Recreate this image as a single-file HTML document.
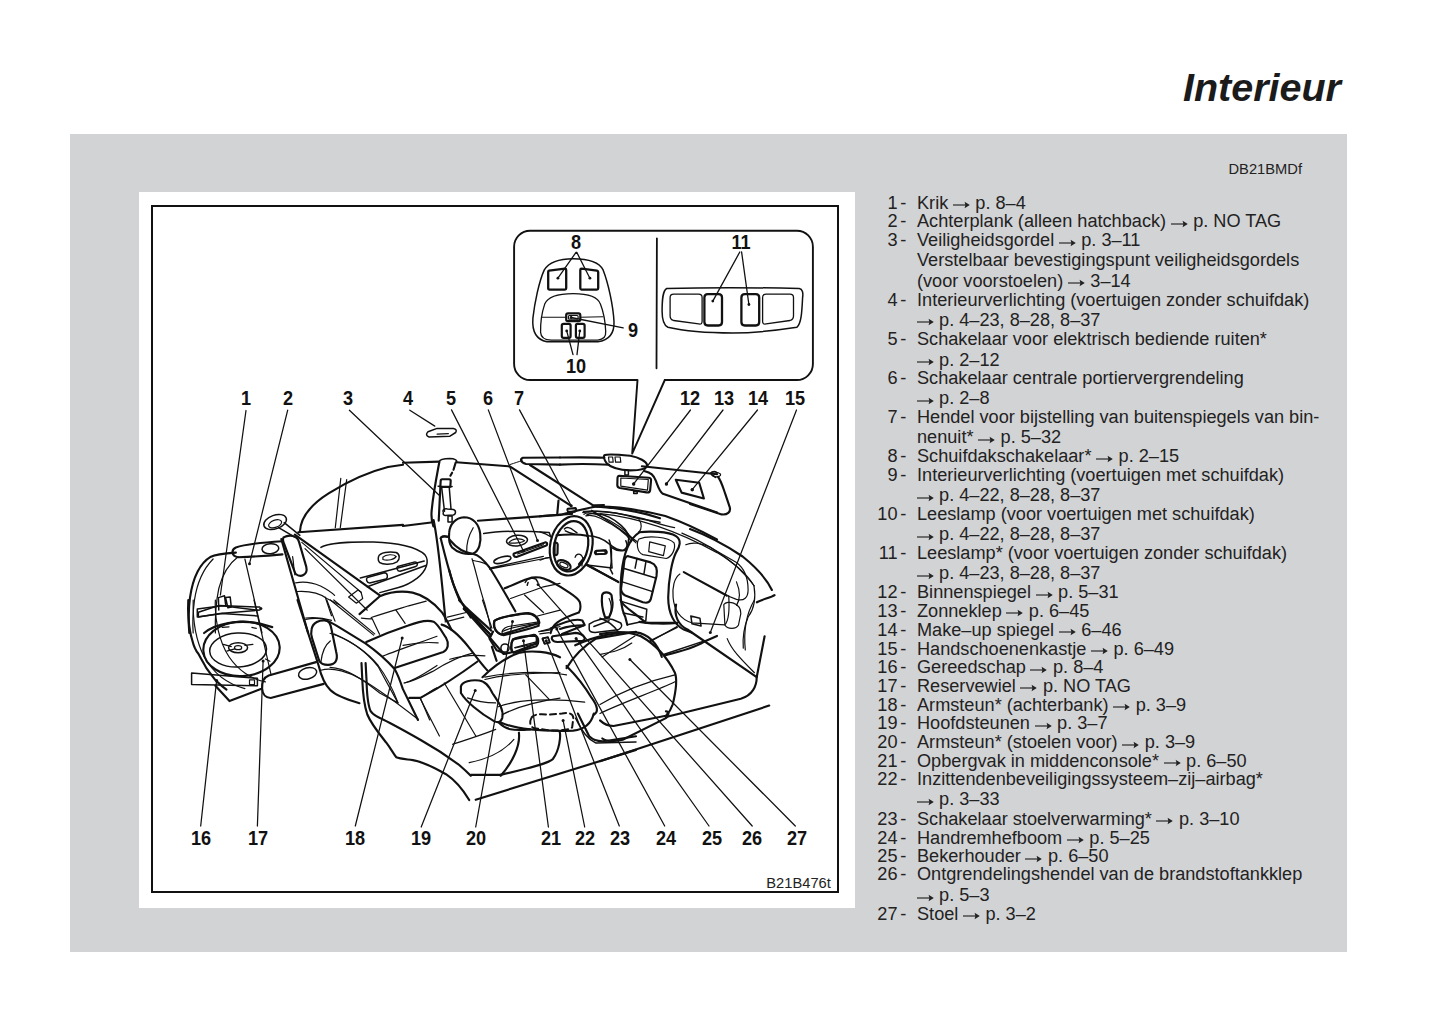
<!DOCTYPE html>
<html><head><meta charset="utf-8"><style>
html,body{margin:0;padding:0;background:#fff;}
body{width:1445px;height:1026px;position:relative;overflow:hidden;font-family:"Liberation Sans",sans-serif;color:#222;}
.abs{position:absolute;}
#title{position:absolute;right:104px;top:68px;font-size:39.5px;font-weight:bold;font-style:italic;color:#1b1b1b;line-height:1;white-space:nowrap;letter-spacing:0px}
#gray{position:absolute;left:70px;top:134px;width:1277px;height:818px;background:#d2d3d5;}
#white{position:absolute;left:139px;top:192px;width:716px;height:716px;background:#fff;}
#frame{position:absolute;left:151px;top:205px;width:684px;height:684px;border:2px solid #111;}
.n{position:absolute;left:841.5px;width:56px;text-align:right;font-size:18.15px;line-height:1;white-space:nowrap}
.d{position:absolute;left:900.2px;font-size:18.15px;line-height:1}
.t{position:absolute;left:917px;font-size:18.15px;line-height:1;white-space:nowrap}
.ar{display:inline-block;position:static;vertical-align:-0.5px;margin:0 0.5px 0 -0.5px}
.lb{position:absolute;width:60px;text-align:center;font-size:19.5px;font-weight:bold;line-height:1;color:#111;transform:scaleX(0.93)}
#code1{position:absolute;left:1228.5px;top:162.3px;font-size:14.7px;line-height:1;color:#222}
#code2{position:absolute;left:766.3px;top:876.3px;font-size:14.7px;line-height:1;color:#222}
svg{position:absolute;left:0;top:0}
</style></head><body>
<div id="title">Interieur</div>
<div id="gray"></div>
<div id="white"></div>
<div id="frame"></div>
<div id="code1">DB21BMDf</div>
<div id="code2">B21B476t</div>
<div class="n" style="top:193.6px">1</div><div class="d" style="top:193.6px">-</div>
<div class="t" style="top:193.6px">Krik <svg class="ar" width="17" height="8" viewBox="0 0 17 8"><path d="M0 4H13" stroke="#222" stroke-width="1.15"/><path d="M11.6 0.7L16.8 4L11.6 7.3Q13.2 4 11.6 0.7Z" fill="#222" stroke="none"/></svg> p. 8–4</div>
<div class="n" style="top:212.3px">2</div><div class="d" style="top:212.3px">-</div>
<div class="t" style="top:212.3px">Achterplank (alleen hatchback) <svg class="ar" width="17" height="8" viewBox="0 0 17 8"><path d="M0 4H13" stroke="#222" stroke-width="1.15"/><path d="M11.6 0.7L16.8 4L11.6 7.3Q13.2 4 11.6 0.7Z" fill="#222" stroke="none"/></svg> p. NO TAG</div>
<div class="n" style="top:231.1px">3</div><div class="d" style="top:231.1px">-</div>
<div class="t" style="top:231.1px">Veiligheidsgordel <svg class="ar" width="17" height="8" viewBox="0 0 17 8"><path d="M0 4H13" stroke="#222" stroke-width="1.15"/><path d="M11.6 0.7L16.8 4L11.6 7.3Q13.2 4 11.6 0.7Z" fill="#222" stroke="none"/></svg> p. 3–11</div>
<div class="t" style="top:251.4px">Verstelbaar bevestigingspunt veiligheidsgordels</div>
<div class="t" style="top:271.9px">(voor voorstoelen) <svg class="ar" width="17" height="8" viewBox="0 0 17 8"><path d="M0 4H13" stroke="#222" stroke-width="1.15"/><path d="M11.6 0.7L16.8 4L11.6 7.3Q13.2 4 11.6 0.7Z" fill="#222" stroke="none"/></svg> 3–14</div>
<div class="n" style="top:290.6px">4</div><div class="d" style="top:290.6px">-</div>
<div class="t" style="top:290.6px">Interieurverlichting (voertuigen zonder schuifdak)</div>
<div class="t" style="top:310.9px"><svg class="ar" width="17" height="8" viewBox="0 0 17 8"><path d="M0 4H13" stroke="#222" stroke-width="1.15"/><path d="M11.6 0.7L16.8 4L11.6 7.3Q13.2 4 11.6 0.7Z" fill="#222" stroke="none"/></svg> p. 4–23, 8–28, 8–37</div>
<div class="n" style="top:329.6px">5</div><div class="d" style="top:329.6px">-</div>
<div class="t" style="top:329.6px">Schakelaar voor elektrisch bediende ruiten*</div>
<div class="t" style="top:350.6px"><svg class="ar" width="17" height="8" viewBox="0 0 17 8"><path d="M0 4H13" stroke="#222" stroke-width="1.15"/><path d="M11.6 0.7L16.8 4L11.6 7.3Q13.2 4 11.6 0.7Z" fill="#222" stroke="none"/></svg> p. 2–12</div>
<div class="n" style="top:368.6px">6</div><div class="d" style="top:368.6px">-</div>
<div class="t" style="top:368.6px">Schakelaar centrale portiervergrendeling</div>
<div class="t" style="top:389.2px"><svg class="ar" width="17" height="8" viewBox="0 0 17 8"><path d="M0 4H13" stroke="#222" stroke-width="1.15"/><path d="M11.6 0.7L16.8 4L11.6 7.3Q13.2 4 11.6 0.7Z" fill="#222" stroke="none"/></svg> p. 2–8</div>
<div class="n" style="top:407.7px">7</div><div class="d" style="top:407.7px">-</div>
<div class="t" style="top:407.7px">Hendel voor bijstelling van buitenspiegels van bin-</div>
<div class="t" style="top:428.2px">nenuit* <svg class="ar" width="17" height="8" viewBox="0 0 17 8"><path d="M0 4H13" stroke="#222" stroke-width="1.15"/><path d="M11.6 0.7L16.8 4L11.6 7.3Q13.2 4 11.6 0.7Z" fill="#222" stroke="none"/></svg> p. 5–32</div>
<div class="n" style="top:447.2px">8</div><div class="d" style="top:447.2px">-</div>
<div class="t" style="top:447.2px">Schuifdakschakelaar* <svg class="ar" width="17" height="8" viewBox="0 0 17 8"><path d="M0 4H13" stroke="#222" stroke-width="1.15"/><path d="M11.6 0.7L16.8 4L11.6 7.3Q13.2 4 11.6 0.7Z" fill="#222" stroke="none"/></svg> p. 2–15</div>
<div class="n" style="top:465.6px">9</div><div class="d" style="top:465.6px">-</div>
<div class="t" style="top:465.6px">Interieurverlichting (voertuigen met schuifdak)</div>
<div class="t" style="top:486.0px"><svg class="ar" width="17" height="8" viewBox="0 0 17 8"><path d="M0 4H13" stroke="#222" stroke-width="1.15"/><path d="M11.6 0.7L16.8 4L11.6 7.3Q13.2 4 11.6 0.7Z" fill="#222" stroke="none"/></svg> p. 4–22, 8–28, 8–37</div>
<div class="n" style="top:504.6px">10</div><div class="d" style="top:504.6px">-</div>
<div class="t" style="top:504.6px">Leeslamp (voor voertuigen met schuifdak)</div>
<div class="t" style="top:525.0px"><svg class="ar" width="17" height="8" viewBox="0 0 17 8"><path d="M0 4H13" stroke="#222" stroke-width="1.15"/><path d="M11.6 0.7L16.8 4L11.6 7.3Q13.2 4 11.6 0.7Z" fill="#222" stroke="none"/></svg> p. 4–22, 8–28, 8–37</div>
<div class="n" style="top:543.7px">11</div><div class="d" style="top:543.7px">-</div>
<div class="t" style="top:543.7px">Leeslamp* (voor voertuigen zonder schuifdak)</div>
<div class="t" style="top:564.3px"><svg class="ar" width="17" height="8" viewBox="0 0 17 8"><path d="M0 4H13" stroke="#222" stroke-width="1.15"/><path d="M11.6 0.7L16.8 4L11.6 7.3Q13.2 4 11.6 0.7Z" fill="#222" stroke="none"/></svg> p. 4–23, 8–28, 8–37</div>
<div class="n" style="top:583.3px">12</div><div class="d" style="top:583.3px">-</div>
<div class="t" style="top:583.3px">Binnenspiegel <svg class="ar" width="17" height="8" viewBox="0 0 17 8"><path d="M0 4H13" stroke="#222" stroke-width="1.15"/><path d="M11.6 0.7L16.8 4L11.6 7.3Q13.2 4 11.6 0.7Z" fill="#222" stroke="none"/></svg> p. 5–31</div>
<div class="n" style="top:601.9px">13</div><div class="d" style="top:601.9px">-</div>
<div class="t" style="top:601.9px">Zonneklep <svg class="ar" width="17" height="8" viewBox="0 0 17 8"><path d="M0 4H13" stroke="#222" stroke-width="1.15"/><path d="M11.6 0.7L16.8 4L11.6 7.3Q13.2 4 11.6 0.7Z" fill="#222" stroke="none"/></svg> p. 6–45</div>
<div class="n" style="top:620.7px">14</div><div class="d" style="top:620.7px">-</div>
<div class="t" style="top:620.7px">Make–up spiegel <svg class="ar" width="17" height="8" viewBox="0 0 17 8"><path d="M0 4H13" stroke="#222" stroke-width="1.15"/><path d="M11.6 0.7L16.8 4L11.6 7.3Q13.2 4 11.6 0.7Z" fill="#222" stroke="none"/></svg> 6–46</div>
<div class="n" style="top:639.7px">15</div><div class="d" style="top:639.7px">-</div>
<div class="t" style="top:639.7px">Handschoenenkastje <svg class="ar" width="17" height="8" viewBox="0 0 17 8"><path d="M0 4H13" stroke="#222" stroke-width="1.15"/><path d="M11.6 0.7L16.8 4L11.6 7.3Q13.2 4 11.6 0.7Z" fill="#222" stroke="none"/></svg> p. 6–49</div>
<div class="n" style="top:658.2px">16</div><div class="d" style="top:658.2px">-</div>
<div class="t" style="top:658.2px">Gereedschap <svg class="ar" width="17" height="8" viewBox="0 0 17 8"><path d="M0 4H13" stroke="#222" stroke-width="1.15"/><path d="M11.6 0.7L16.8 4L11.6 7.3Q13.2 4 11.6 0.7Z" fill="#222" stroke="none"/></svg> p. 8–4</div>
<div class="n" style="top:676.8px">17</div><div class="d" style="top:676.8px">-</div>
<div class="t" style="top:676.8px">Reservewiel <svg class="ar" width="17" height="8" viewBox="0 0 17 8"><path d="M0 4H13" stroke="#222" stroke-width="1.15"/><path d="M11.6 0.7L16.8 4L11.6 7.3Q13.2 4 11.6 0.7Z" fill="#222" stroke="none"/></svg> p. NO TAG</div>
<div class="n" style="top:695.5px">18</div><div class="d" style="top:695.5px">-</div>
<div class="t" style="top:695.5px">Armsteun* (achterbank) <svg class="ar" width="17" height="8" viewBox="0 0 17 8"><path d="M0 4H13" stroke="#222" stroke-width="1.15"/><path d="M11.6 0.7L16.8 4L11.6 7.3Q13.2 4 11.6 0.7Z" fill="#222" stroke="none"/></svg> p. 3–9</div>
<div class="n" style="top:714.3px">19</div><div class="d" style="top:714.3px">-</div>
<div class="t" style="top:714.3px">Hoofdsteunen <svg class="ar" width="17" height="8" viewBox="0 0 17 8"><path d="M0 4H13" stroke="#222" stroke-width="1.15"/><path d="M11.6 0.7L16.8 4L11.6 7.3Q13.2 4 11.6 0.7Z" fill="#222" stroke="none"/></svg> p. 3–7</div>
<div class="n" style="top:733.1px">20</div><div class="d" style="top:733.1px">-</div>
<div class="t" style="top:733.1px">Armsteun* (stoelen voor) <svg class="ar" width="17" height="8" viewBox="0 0 17 8"><path d="M0 4H13" stroke="#222" stroke-width="1.15"/><path d="M11.6 0.7L16.8 4L11.6 7.3Q13.2 4 11.6 0.7Z" fill="#222" stroke="none"/></svg> p. 3–9</div>
<div class="n" style="top:751.6px">21</div><div class="d" style="top:751.6px">-</div>
<div class="t" style="top:751.6px">Opbergvak in middenconsole* <svg class="ar" width="17" height="8" viewBox="0 0 17 8"><path d="M0 4H13" stroke="#222" stroke-width="1.15"/><path d="M11.6 0.7L16.8 4L11.6 7.3Q13.2 4 11.6 0.7Z" fill="#222" stroke="none"/></svg> p. 6–50</div>
<div class="n" style="top:769.9px">22</div><div class="d" style="top:769.9px">-</div>
<div class="t" style="top:769.9px">Inzittendenbeveiligingssysteem–zij–airbag*</div>
<div class="t" style="top:790.1px"><svg class="ar" width="17" height="8" viewBox="0 0 17 8"><path d="M0 4H13" stroke="#222" stroke-width="1.15"/><path d="M11.6 0.7L16.8 4L11.6 7.3Q13.2 4 11.6 0.7Z" fill="#222" stroke="none"/></svg> p. 3–33</div>
<div class="n" style="top:809.5px">23</div><div class="d" style="top:809.5px">-</div>
<div class="t" style="top:809.5px">Schakelaar stoelverwarming* <svg class="ar" width="17" height="8" viewBox="0 0 17 8"><path d="M0 4H13" stroke="#222" stroke-width="1.15"/><path d="M11.6 0.7L16.8 4L11.6 7.3Q13.2 4 11.6 0.7Z" fill="#222" stroke="none"/></svg> p. 3–10</div>
<div class="n" style="top:828.5px">24</div><div class="d" style="top:828.5px">-</div>
<div class="t" style="top:828.5px">Handremhefboom <svg class="ar" width="17" height="8" viewBox="0 0 17 8"><path d="M0 4H13" stroke="#222" stroke-width="1.15"/><path d="M11.6 0.7L16.8 4L11.6 7.3Q13.2 4 11.6 0.7Z" fill="#222" stroke="none"/></svg> p. 5–25</div>
<div class="n" style="top:847.0px">25</div><div class="d" style="top:847.0px">-</div>
<div class="t" style="top:847.0px">Bekerhouder <svg class="ar" width="17" height="8" viewBox="0 0 17 8"><path d="M0 4H13" stroke="#222" stroke-width="1.15"/><path d="M11.6 0.7L16.8 4L11.6 7.3Q13.2 4 11.6 0.7Z" fill="#222" stroke="none"/></svg> p. 6–50</div>
<div class="n" style="top:865.3px">26</div><div class="d" style="top:865.3px">-</div>
<div class="t" style="top:865.3px">Ontgrendelingshendel van de brandstoftankklep</div>
<div class="t" style="top:886.0px"><svg class="ar" width="17" height="8" viewBox="0 0 17 8"><path d="M0 4H13" stroke="#222" stroke-width="1.15"/><path d="M11.6 0.7L16.8 4L11.6 7.3Q13.2 4 11.6 0.7Z" fill="#222" stroke="none"/></svg> p. 5–3</div>
<div class="n" style="top:904.5px">27</div><div class="d" style="top:904.5px">-</div>
<div class="t" style="top:904.5px">Stoel <svg class="ar" width="17" height="8" viewBox="0 0 17 8"><path d="M0 4H13" stroke="#222" stroke-width="1.15"/><path d="M11.6 0.7L16.8 4L11.6 7.3Q13.2 4 11.6 0.7Z" fill="#222" stroke="none"/></svg> p. 3–2</div>
<svg width="1445" height="1026" viewBox="0 0 1445 1026" fill="none" stroke="#111" stroke-linecap="round" stroke-linejoin="round">
<path d="M664.8,380 L796.9,380 A16,16 0 0 0 812.9,364 L812.9,246.7 A16,16 0 0 0 796.9,230.7 L530.1,230.7 A16,16 0 0 0 514.1,246.7 L514.1,364 A16,16 0 0 0 530.1,380 L637.5,380 L632.2,453.6 L664.8,380" stroke-width="1.9"/>
<path d="M656.9,238.5 L656.5,368.3" stroke-width="1.8"/>
<path d="M 573.2,258.7 C 560.1,258.7 549.6,261.1 544.3,269.9 C 539.0,281.3 534.6,303.2 532.9,318.2 C 532.0,329.6 534.6,339.2 546.9,341.8 L 597.8,341.8 C 609.2,340.1 614.5,333.9 614.0,321.7 C 613.2,305.9 608.3,283.1 603.1,269.9 C 598.7,261.1 586.4,258.7 573.2,258.7 Z" stroke-width="1.5" />
<path d="M 573.2,293.6 C 558.3,293.6 547.8,296.2 544.7,304.1 C 541.7,312.9 540.4,321.7 540.6,332.2 C 540.8,337.5 544.3,339.9 551.3,340.1 L 597.8,340.1 C 603.9,339.6 606.1,336.6 605.7,331.3 C 605.3,321.7 603.5,312.0 600.4,304.1 C 597.8,296.2 588.2,293.6 573.2,293.6 Z" stroke-width="1.3" />
<path d="M 542.1,317.3 L 566.2,317.3 M 580.3,317.3 L 603.1,316.8" stroke-width="1.1" />
<path d="M 549.1,270.6 L 564.9,268.6 Q 566.2,268.6 566.2,269.9 L 566.2,288.3 Q 566.2,289.6 564.9,289.6 L 549.6,289.6 Q 548.2,289.6 548.2,288.3 L 548.2,271.8 Q 548.2,270.8 549.1,270.6 Z" stroke-width="2.3" />
<path d="M 581.6,268.6 L 596.9,270.6 Q 598.2,271.0 598.2,272.1 L 598.2,288.3 Q 598.2,289.6 596.9,289.6 L 581.6,289.6 Q 580.3,289.6 580.3,288.3 L 580.3,269.9 Q 580.3,268.6 581.6,268.6 Z" stroke-width="2.3" />
<path d="M 568.0,313.3 L 578.5,313.3 Q 580.3,313.3 580.3,315.1 L 580.3,319.5 Q 580.3,321.2 578.5,321.2 L 568.0,321.2 Q 566.2,321.2 566.2,319.5 L 566.2,315.1 Q 566.2,313.3 568.0,313.3 Z" stroke-width="2.2" />
<path d="M 569.3,315.5 L 577.2,315.5 Q 578.1,315.5 578.1,316.4 L 578.1,318.3 Q 578.1,319.2 577.2,319.2 L 569.3,319.2 Q 568.4,319.2 568.4,318.3 L 568.4,316.4 Q 568.4,315.5 569.3,315.5 Z" stroke-width="1.2" />
<path d="M 563.6,323.9 L 568.9,323.9 Q 570.6,323.9 570.6,325.6 L 570.6,336.1 Q 570.6,337.9 568.9,337.9 L 563.6,337.9 Q 561.8,337.9 561.8,336.1 L 561.8,325.6 Q 561.8,323.9 563.6,323.9 Z" stroke-width="2.2" />
<path d="M 577.6,323.9 L 582.9,323.9 Q 584.6,323.9 584.6,325.6 L 584.6,336.1 Q 584.6,337.9 582.9,337.9 L 577.6,337.9 Q 575.9,337.9 575.9,336.1 L 575.9,325.6 Q 575.9,323.9 577.6,323.9 Z" stroke-width="2.2" />
<circle cx="557.9" cy="278.2" r="1.4" fill="#111" stroke="none"/>
<circle cx="589.9" cy="278.2" r="1.4" fill="#111" stroke="none"/>
<circle cx="571.1" cy="317.5" r="1.4" fill="#111" stroke="none"/>
<circle cx="566.7" cy="330.9" r="1.4" fill="#111" stroke="none"/>
<circle cx="579.8" cy="330.9" r="1.4" fill="#111" stroke="none"/>
<path d="M 576.0,252.4 L 557.9,278.2 M 576.8,252.4 L 589.9,278.2 M 571.1,317.5 L 623.2,327.8" stroke-width="1.3" />
<path d="M573,354.7 L566.7,330.9 M577,354.7 L579.8,330.9" stroke-width="1.3"/>
<path d="M 666.7,288.5 C 705.5,287.4 751.2,287.4 799.2,288.5 C 802.6,289.0 803.3,293.1 802.6,297.6 C 801.9,311.3 801.5,322.8 796.9,327.3 C 774.0,330.8 751.2,333.0 732.9,333.0 C 705.5,333.0 682.7,330.8 667.9,327.3 C 663.3,325.1 662.1,318.2 662.1,311.3 C 662.1,299.9 662.6,290.8 666.7,288.5 Z" stroke-width="1.5" />
<path d="M 673.6,294.2 L 698.7,294.2 Q 702.1,294.2 702.1,297.6 L 702.1,321.6 Q 702.1,324.6 698.7,323.9 L 673.6,320.5 Q 670.1,319.3 670.1,315.9 L 670.1,297.6 Q 670.1,294.2 673.6,294.2 Z" stroke-width="1.3" />
<path d="M 790.0,294.2 L 766.1,294.2 Q 762.6,294.2 762.6,297.6 L 762.6,321.6 Q 762.6,324.6 766.1,323.9 L 790.0,320.5 Q 793.5,319.3 793.5,315.9 L 793.5,297.6 Q 793.5,294.2 790.0,294.2 Z" stroke-width="1.3" />
<path d="M 707.8,294.2 L 718.6,294.2 Q 722.0,294.2 722.0,297.6 L 722.0,322.1 Q 722.0,325.5 718.6,325.5 L 707.8,325.5 Q 704.4,325.5 704.4,322.1 L 704.4,297.6 Q 704.4,294.2 707.8,294.2 Z" stroke-width="2.3" />
<path d="M 744.8,294.2 L 755.8,294.2 Q 759.2,294.2 759.2,297.6 L 759.2,322.1 Q 759.2,325.5 755.8,325.5 L 744.8,325.5 Q 741.4,325.5 741.4,322.1 L 741.4,297.6 Q 741.4,294.2 744.8,294.2 Z" stroke-width="2.3" />
<circle cx="712.8" cy="301.1" r="1.4" fill="#111" stroke="none"/>
<circle cx="748.9" cy="304.5" r="1.4" fill="#111" stroke="none"/>
<path d="M 739.8,252.0 L 712.8,301.1 M 741.6,252.0 L 748.9,304.5" stroke-width="1.3" />
<path d="M 299.9,531.7 C 300.6,518.1 310.8,504.5 329.0,493.1 C 347.1,481.8 365.3,472.7 388.0,467.0 L 403.0,464.7" stroke-width="2.15" />
<path d="M 340.8,478.3 L 335.3,527.6 M 346.7,479.5 L 340.3,527.6" stroke-width="1.2" />
<path d="M 298.3,532.2 L 403.0,524.9" stroke-width="2.15" />
<ellipse cx="275.1" cy="522.0" rx="11.8" ry="6.8" transform="rotate(-20 275.1 522.0)" stroke-width="1.5" fill="none"/>
<ellipse cx="275.1" cy="523.8" rx="6.8" ry="3.6" transform="rotate(-20 275.1 523.8)" stroke-width="1.2" fill="none"/>
<path d="M 278.6,527.6 L 294.4,536.9 M 284.2,522.6 L 299.9,535.3" stroke-width="1.5" />
<path d="M 282.4,541.3 C 260.8,542.6 242.7,544.9 235.9,547.6 C 230.9,549.9 231.3,556.2 238.1,557.2 C 251.8,556.7 267.7,555.8 282.4,554.4" stroke-width="2.15" />
<ellipse cx="270.4" cy="548.7" rx="8.4" ry="5.0" transform="rotate(-5 270.4 548.7)" stroke-width="1.5" fill="none"/>
<path d="M 235.9,552.6 C 224.5,553.5 215.4,554.4 210.9,556.7 C 199.5,563.5 192.7,579.4 190.0,597.6 C 188.2,611.2 188.6,624.8 189.3,633.0" stroke-width="2.15" />
<path d="M 213.1,559.0 C 204.1,568.1 197.3,581.7 194.5,599.8 C 192.7,613.5 192.7,627.1 193.2,633.0" stroke-width="1.2" />
<path d="M 238.1,556.7 C 229.0,563.5 222.2,574.9 218.8,588.5 C 215.4,604.4 215.0,618.0 215.4,633.0" stroke-width="1.2" />
<path d="M 244.9,559.0 L 262.0,633.0" stroke-width="1.2" />
<path d="M 198.4,612.3 L 218.8,605.5 L 259.7,607.1 M 198.4,616.9 L 220.0,613.5 L 259.7,610.1 M 198.4,612.3 L 198.4,616.9" stroke-width="1.5" />
<path d="M 218.8,610.1 L 218.4,597.6 L 224.5,595.8 L 225.6,604.4 M 225.6,597.6 L 227.9,607.8 L 231.3,607.1 L 230.2,597.1 Z" stroke-width="1.5" />
<circle cx="260.8" cy="608.5" r="1.6" fill="#111" stroke="none"/>
<path d="M 204.1,633.0 C 215.4,623.7 238.1,619.1 260.8,623.7 L 272.2,627.1" stroke-width="2.15" />
<path d="M 283.5,537.4 C 289.2,534.4 297.2,535.1 299.0,541.9 L 306.3,566.9 C 308.1,574.9 300.6,578.3 295.4,573.7 L 284.7,545.3 C 283.1,541.9 282.6,539.0 283.5,537.4 Z" stroke-width="2.15" />
<path d="M 281.3,539.0 L 308.1,633.0" stroke-width="2.15" />
<path d="M 292.6,556.7 C 293.8,563.5 293.8,570.3 294.9,574.9" stroke-width="1.2" />
<path d="M 428.0,431.8 L 437.1,428.4 L 453.4,428.4 Q 457.5,429.1 455.7,432.5 L 449.6,436.3 L 429.1,437.0 Q 424.6,435.2 428.0,431.8 Z" stroke-width="1.5" />
<path d="M 437.1,434.1 L 448.4,433.6" stroke-width="1.2" />
<path d="M 403.0,462.8 L 439.3,461.6" stroke-width="2.15" />
<path d="M 439.3,461.6 C 439.8,459.3 442.8,458.5 449.8,458.5 C 454.5,458.7 456.8,459.9 456.8,461.6" stroke-width="1.5" />
<path d="M 456.2,462.2 L 508.3,466.3" stroke-width="2.15" />
<path d="M 439.3,462.2 C 436.9,475.1 433.4,492.6 431.7,510.2 C 431.1,516.0 431.7,521.9 433.4,526.5" stroke-width="2.15" />
<path d="M 455.6,462.8 L 453.5,469.8 M 452.1,472.7 L 450.4,475.7" stroke-width="2.15" />
<path d="M 440.4,486.2 L 438.7,520.7" stroke-width="2.15" />
<path d="M 442.2,479.2 L 449.2,479.2 Q 450.7,479.2 450.7,480.7 L 450.4,485.6 Q 450.4,486.8 449.2,486.8 L 441.6,486.8 Q 440.4,486.8 440.4,485.6 L 440.7,480.7 Q 440.7,479.2 442.2,479.2 Z" stroke-width="2.15" />
<path d="M 438.1,486.2 L 440.4,486.5 M 450.4,487.0 L 452.1,486.5" stroke-width="1.5" />
<path d="M 441.6,486.8 L 444.5,511.3 M 449.2,486.8 L 451.0,509.0" stroke-width="1.5" />
<path d="M 443.4,512.5 C 442.2,510.2 443.9,508.4 447.4,509.0 L 453.3,509.6 C 456.2,510.2 456.2,514.3 453.3,514.9 L 445.1,515.4 C 443.4,515.4 442.8,513.7 443.4,512.5 Z" stroke-width="1.5" />
<path d="M 448.0,516.0 L 452.1,516.0 L 452.1,521.9 L 448.0,521.9 Z" stroke-width="1.5" />
<path d="M 403.0,526.0 L 431.1,522.5" stroke-width="2.15" />
<path d="M 477.9,520.7 L 560.0,514.9" stroke-width="2.15" />
<path d="M 449.2,532.4 C 449.8,524.2 455.6,517.8 463.8,517.2 C 473.2,517.2 479.0,524.2 480.2,533.6 C 481.4,542.9 479.0,551.1 473.2,553.5 C 466.2,555.2 456.8,552.3 452.1,547.6 C 449.2,544.1 448.6,538.2 449.2,532.4 Z" stroke-width="2.15" />
<path d="M 473.2,527.7 C 469.7,533.6 466.2,540.6 466.7,552.3" stroke-width="1.2" />
<path d="M 441.6,537.1 C 442.8,535.9 445.1,535.9 448.6,537.1" stroke-width="2.15" />
<path d="M 483.7,533.6 C 496.6,531.2 520.0,530.6 549.2,532.4 L 550.6,536.5" stroke-width="1.5" />
<ellipse cx="517.0" cy="540.6" rx="10.5" ry="5.3" transform="rotate(-5 517.0 540.6)" stroke-width="1.5" fill="none"/>
<path d="M 508.8,542.9 C 511.8,538.2 521.1,537.7 524.6,540.6 C 522.3,542.9 512.9,543.5 508.8,542.9 Z" stroke-width="1.2" />
<path d="M 514.1,553.5 L 545.7,542.3 C 548.0,542.9 547.4,545.3 545.7,545.8 L 516.5,557.0 C 513.5,557.0 512.9,554.0 514.1,553.5 Z" stroke-width="2.15" />
<path d="M 517.6,554.0 L 543.4,544.7" stroke-width="1.2" />
<path d="M 449.8,540.0 C 455.6,547.0 463.8,552.9 473.2,554.0 C 479.0,554.6 484.9,561.1 490.7,569.2 C 496.6,578.6 504.8,592.6 515.3,611.3" stroke-width="2.15" />
<path d="M 472.0,558.7 C 475.5,569.2 479.0,586.8 484.9,604.3 C 487.2,612.5 489.5,621.9 490.7,628.9" stroke-width="1.2" />
<path d="M 473.2,560.5 C 482.5,562.2 487.2,563.4 489.5,566.9" stroke-width="1.2" />
<path d="M 463.8,609.0 L 489.5,633.6 M 466.2,607.8 L 491.3,630.6" stroke-width="2.15" />
<path d="M 494.8,620.7 C 496.6,618.4 520.0,613.1 528.1,613.1 C 535.2,613.7 539.8,619.5 539.3,623.0 L 502.4,634.2 C 498.9,634.7 495.4,631.2 494.2,626.5 C 493.6,623.6 493.6,621.9 494.8,620.7 Z" stroke-width="2.15" />
<path d="M 502.4,634.2 C 501.2,631.2 503.6,627.7 508.3,626.5 L 538.7,621.9" stroke-width="1.2" />
<path d="M 489.5,637.1 L 491.9,633.6 M 489.5,637.1 L 503.6,654.0 L 511.8,652.3" stroke-width="2.15" />
<path d="M 512.9,639.4 L 534.0,634.7 C 537.5,634.7 537.5,642.9 535.2,644.1 L 514.1,652.3 C 510.6,652.9 510.6,642.9 512.9,639.4 Z" stroke-width="2.15" />
<path d="M 514.7,647.6 L 536.3,641.8" stroke-width="1.2" />
<path d="M 542.8,638.2 L 548.0,637.1 L 549.8,642.3 L 544.5,643.5 Z" stroke-width="1.5" />
<ellipse cx="502.4" cy="559.9" rx="8.8" ry="2.9" transform="rotate(-15 502.4 559.9)" stroke-width="1.5" fill="none"/>
<path d="M 489.5,568.1 L 543.4,556.4 M 489.5,569.2 L 549.2,557.5" stroke-width="1.2" />
<path d="M 510.6,598.5 C 520.0,595.0 531.7,591.5 543.4,586.8 L 560.0,583.3" stroke-width="1.2" />
<path d="M 524.6,595.0 L 543.4,612.5 M 537.5,616.0 L 560.0,610.2 M 541.0,631.2 C 549.2,628.9 555.0,627.7 560.0,626.5" stroke-width="1.2" />
<path d="M 447.4,617.2 L 466.2,612.5 M 445.1,621.9 L 463.8,617.2" stroke-width="1.2" />
<path d="M 403.0,645.3 C 414.7,642.9 426.4,641.8 438.1,642.9 M 449.8,659.3 C 461.5,655.8 473.2,654.6 484.9,655.8" stroke-width="1.2" />
<path d="M 560.0,457.5 C 571.7,457.3 589.2,457.0 604.4,457.8" stroke-width="2.15" />
<path d="M 560.0,464.6 C 571.7,464.0 595.1,464.0 609.1,464.8" stroke-width="2.15" />
<path d="M 604.4,455.2 C 606.8,454.0 618.5,454.6 630.2,455.8 C 639.5,457.5 646.5,461.6 647.1,465.1 C 646.5,468.7 641.9,470.4 630.2,470.4 C 618.5,469.8 610.3,466.9 606.8,463.4 C 604.4,459.9 603.3,456.4 604.4,455.2 Z" stroke-width="2.15" />
<path d="M 608.5,457.0 L 612.6,457.0 L 613.2,462.2 L 609.1,462.2 Z M 615.0,457.0 L 620.2,457.0 L 620.8,462.2 L 615.6,462.2 Z" stroke-width="1.2" />
<path d="M 641.9,466.3 L 717.0,474.2" stroke-width="2.15" />
<path d="M 619.1,475.7 L 648.9,477.7 Q 651.5,478.1 651.0,481.2 L 650.1,490.5 Q 649.6,492.9 646.5,492.4 L 619.9,488.0 Q 617.3,487.4 617.3,485.0 L 617.5,478.0 Q 617.9,475.7 619.1,475.7 Z" stroke-width="2.15" />
<path d="M 620.8,478.0 L 648.3,479.5 L 647.5,490.1 L 620.8,486.2 Z" stroke-width="1.2" />
<path d="M 624.9,470.2 L 628.4,470.2 L 628.4,475.1 L 624.9,475.1 Z M 633.7,491.5 L 637.2,491.5 L 637.2,493.6 L 633.7,493.6 Z" stroke-width="1.5" />
<circle cx="633.7" cy="483.9" r="1.6" fill="#111" stroke="none"/>
<circle cx="666.4" cy="483.9" r="1.6" fill="#111" stroke="none"/>
<circle cx="692.2" cy="489.7" r="1.6" fill="#111" stroke="none"/>
<path d="M 644.2,471.0 C 651.2,472.7 653.6,475.1 655.9,480.9 C 658.2,486.8 659.4,491.5 662.9,493.8 L 717.0,512.5" stroke-width="2.15" />
<path d="M 675.8,479.8 L 699.2,482.7 L 703.9,498.5 L 681.6,492.6 Z" stroke-width="2.15" />
<path d="M 712.0,472.2 C 714.4,471.0 717.0,471.6 717.0,473.9 M 712.6,475.1 L 715.6,477.4" stroke-width="1.5" />
<path d="M 567.6,508.4 L 575.8,507.8 Q 577.0,509.6 575.8,511.3 L 568.2,511.6 Q 566.8,510.2 567.6,508.4 Z" stroke-width="1.5" />
<path d="M 560.0,514.9 C 569.4,512.5 577.5,510.2 595.1,506.7 C 618.5,506.1 641.9,510.2 665.3,516.0 C 688.7,524.2 706.2,533.6 717.0,539.4" stroke-width="2.15" />
<path d="M 583.4,511.3 C 600.9,510.2 618.5,512.5 641.9,518.4 C 653.6,521.9 665.3,526.5 674.6,527.7" stroke-width="1.2" />
<path d="M 586.9,514.9 C 590.4,512.5 600.9,513.1 609.1,517.2 C 618.5,521.9 625.5,528.9 627.8,533.6 C 630.2,539.4 627.8,547.6 623.2,550.5 C 618.5,551.7 615.0,549.9 611.5,547.6" stroke-width="1.5" />
<path d="M 591.6,510.2 C 606.8,519.5 624.3,531.2 636.0,542.9 M 593.3,511.9 C 608.0,520.7 625.5,532.4 637.2,541.8" stroke-width="1.2" />
<path d="M 595.1,551.1 L 604.4,550.5 Q 606.2,552.3 604.4,554.0 L 595.7,554.4 Q 593.9,552.9 595.1,551.1 Z" stroke-width="1.5" />
<path d="M 710.5,472.9 C 712.2,471.2 718.1,471.8 720.6,474.1 C 721.0,476.4 718.1,477.0 715.1,476.8 C 712.8,476.4 711.6,475.3 710.5,472.9 Z" stroke-width="1.2" />
<path d="M 718.1,477.0 C 721.0,480.5 722.7,486.4 725.1,493.4 L 729.8,507.4 C 730.9,512.1 727.4,515.0 721.6,514.4 L 690.0,503.9" stroke-width="2.15" />
<path d="M 690.0,529.1 C 707.5,535.5 725.1,544.9 742.6,556.5 C 754.3,565.9 766.0,577.6 771.9,590.0" stroke-width="2.15" />
<path d="M 586.9,564.6 L 618.5,582.1" stroke-width="2.15" />
<path d="M 596.3,550.5 L 605.6,549.9 Q 607.4,551.7 605.6,553.8 L 596.8,554.3 Q 595.1,552.3 596.3,550.5 Z" stroke-width="1.5" />
<path d="M 609.1,540.0 C 611.5,545.8 612.6,557.5 610.3,569.2 L 612.6,573.9" stroke-width="1.5" />
<path d="M 602.1,595.0 C 603.3,591.5 609.1,591.5 611.5,595.0 L 612.6,603.2 C 612.6,607.8 611.5,612.5 609.1,617.2 L 605.0,617.2 C 603.3,612.5 600.9,605.5 602.1,595.0 Z" stroke-width="2.15" />
<path d="M 609.1,598.5 C 611.5,603.2 611.5,610.2 610.3,614.9" stroke-width="1.2" />
<path d="M 589.2,624.2 C 595.1,619.5 604.4,617.8 612.6,619.5 L 620.8,623.0 C 623.2,626.5 619.6,630.1 616.1,630.1 L 595.1,632.4 Q 589.2,632.4 589.2,628.9 Z" stroke-width="1.5" />
<path d="M 593.9,626.5 L 609.1,620.7" stroke-width="1.5" />
<path d="M 639.5,621.9 C 647.7,623.6 665.3,624.2 677.0,623.0" stroke-width="2.15" />
<path d="M 650.1,641.8 L 677.0,626.5 M 602.1,657.0 L 634.9,635.9" stroke-width="1.2" />
<path d="M 575.2,645.3 C 595.1,635.9 618.5,631.2 636.0,632.4 C 647.7,633.6 657.1,642.9 661.8,657.0" stroke-width="2.15" />
<path d="M 665.3,655.2 C 677.0,652.3 694.5,647.6 703.9,641.8 L 717.0,635.9" stroke-width="2.15" />
<path d="M 560.0,628.9 C 567.0,626.5 574.0,625.4 583.4,625.4" stroke-width="2.15" />
<path d="M 188.3,600.0 C 187.7,609.1 188.2,627.3 192.2,640.0 C 193.8,646.6 196.1,651.1 198.4,653.8 C 201.8,660.2 204.1,663.6 206.2,667.9 C 209.7,672.7 213.1,677.2 215.6,680.4 C 220.0,684.5 223.4,687.4 226.5,689.7" stroke-width="2.15" />
<path d="M 193.2,600.0 C 192.7,618.2 195.0,638.6 204.1,656.8 C 213.1,672.7 226.8,684.0 244.9,688.6" stroke-width="1.2" />
<path d="M 215.4,600.0 C 214.3,618.2 218.8,640.9 229.0,656.8 C 238.1,670.4 251.8,679.5 265.4,681.8" stroke-width="1.2" />
<path d="M 254.0,600.0 L 271.1,674.9" stroke-width="1.2" />
<path d="M 191.6,673.1 L 257.4,678.3 L 257.4,685.8 L 191.6,684.5 Z" stroke-width="1.5" />
<path d="M 249.5,679.9 L 254.5,679.9 L 254.5,684.5 L 249.5,684.5 Z" stroke-width="1.2" />
<path d="M 215.4,685.8 L 229.5,701.1 L 260.8,689.0" stroke-width="2.15" />
<ellipse cx="241.5" cy="648.8" rx="38.2" ry="27.3" transform="rotate(-3 241.5 648.8)" stroke-width="2.15" fill="none"/>
<ellipse cx="238.1" cy="650.0" rx="28.4" ry="17.0" transform="rotate(-3 238.1 650.0)" stroke-width="1.5" fill="none"/>
<ellipse cx="238.1" cy="647.7" rx="9.5" ry="5.0" transform="rotate(0 238.1 647.7)" stroke-width="1.5" fill="none"/>
<ellipse cx="238.1" cy="647.7" rx="3.6" ry="2.0" transform="rotate(0 238.1 647.7)" stroke-width="1.2" fill="none"/>
<path d="M 223.4,644.3 L 231.3,646.6 M 244.9,645.4 L 252.9,644.3 M 226.8,651.1 L 234.7,648.8" stroke-width="1.2" />
<path d="M 222.2,627.3 L 229.0,626.8 M 251.8,627.3 L 256.3,628.4 M 265.4,659.0 L 269.9,661.3" stroke-width="1.2" />
<path d="M 197.3,609.1 L 222.2,605.7 L 257.4,610.2 M 197.3,617.0 L 222.2,613.6 L 257.4,615.9 M 197.3,609.1 L 197.3,617.0" stroke-width="1.5" />
<path d="M 297.5,600.0 L 318.6,665.5 C 320.9,674.9 324.4,684.2 330.3,690.1 C 336.1,695.9 350.2,700.6 359.5,703.2" stroke-width="2.15" />
<path d="M 311.6,629.2 C 312.7,622.2 319.8,619.9 325.6,620.5 C 329.1,621.1 330.3,623.4 331.5,629.2 L 336.1,651.5 C 338.5,660.8 335.0,664.9 328.0,664.9 C 323.3,664.9 320.4,663.2 319.2,660.8 L 312.2,638.6 C 311.0,635.1 311.0,631.6 311.6,629.2 Z" stroke-width="2.15" />
<path d="M 330.3,640.9 C 325.6,644.4 322.1,651.5 320.9,662.0" stroke-width="1.2" />
<path d="M 325.6,620.5 C 329.1,621.1 332.6,623.4 338.5,626.9 L 365.4,643.3 C 373.6,649.1 385.3,658.5 394.6,669.0 C 398.1,674.9 400.5,681.9 402.8,688.9 L 418.0,720.0" stroke-width="2.15" />
<path d="M 305.7,619.3 C 312.7,618.1 319.8,618.1 326.8,619.9" stroke-width="1.2" />
<path d="M 333.8,633.9 C 350.2,640.9 367.7,652.6 378.2,665.5 C 385.3,674.9 392.3,687.7 398.1,702.9" stroke-width="1.2" />
<path d="M 320.9,670.2 C 332.6,666.7 350.2,672.5 361.9,679.5 C 373.6,686.5 397.0,702.9 418.0,719.3" stroke-width="1.2" />
<path d="M 404.0,683.0 C 414.5,680.7 426.2,672.5 437.0,665.5 M 408.7,698.2 L 420.4,698.2 L 429.7,720.0 M 420.4,698.2 C 427.4,693.6 432.0,690.1 437.0,687.7" stroke-width="1.2" />
<path d="M 382.9,656.1 C 397.0,650.3 414.5,644.4 437.0,636.3 M 371.2,617.5 C 385.3,612.9 397.0,609.4 408.7,605.8 L 426.2,601.2 M 395.8,609.9 L 405.1,623.4" stroke-width="1.2" />
<path d="M 326.8,600.0 L 335.0,621.1 M 330.3,600.0 L 373.6,635.1 M 333.8,600.0 L 374.7,633.9" stroke-width="1.2" />
<path d="M 316.0,662.1 L 268.7,675.5 C 263.7,677.4 261.8,682.4 262.1,688.6 C 262.5,694.8 266.2,698.0 270.6,698.0 L 323.8,683.9" stroke-width="2.15" />
<ellipse cx="307.6" cy="673.4" rx="9.3" ry="5.6" transform="rotate(-15 307.6 673.4)" stroke-width="1.5" fill="none"/>
<path d="M 459.1,600.0 L 490.7,635.1 M 463.8,608.2 L 489.5,637.4" stroke-width="2.15" />
<path d="M 441.6,624.6 C 449.8,626.9 459.1,635.1 468.5,646.8 C 475.5,656.1 482.5,665.5 487.2,670.2" stroke-width="2.15" />
<path d="M 482.5,600.0 L 491.9,628.1" stroke-width="1.2" />
<path d="M 482.5,677.2 C 490.7,669.0 502.4,658.5 520.0,652.6 C 531.7,650.3 549.2,651.5 560.0,657.3" stroke-width="2.15" />
<path d="M 484.9,679.5 C 502.4,674.9 520.0,673.7 560.0,672.5 M 525.8,674.9 L 549.2,699.4 M 560.0,698.2 C 543.4,700.6 520.0,705.3 502.4,714.6" stroke-width="1.2" />
<path d="M 494.2,621.1 C 496.6,618.7 508.3,615.2 525.8,613.5 C 534.0,612.9 538.7,618.7 538.7,623.4 L 538.7,625.7 C 531.7,628.1 514.1,632.7 503.6,635.1 C 500.1,635.1 495.4,631.6 494.2,626.9 Z" stroke-width="2.15" />
<path d="M 502.4,631.6 C 508.3,628.1 520.0,625.7 538.7,623.4" stroke-width="1.2" />
<path d="M 493.1,631.6 L 489.5,638.6 L 496.6,650.3 L 505.9,653.8 M 491.9,646.8 L 496.6,660.8" stroke-width="2.15" />
<ellipse cx="505.0" cy="648.0" rx="4.1" ry="4.1" transform="rotate(0 505.0 648.0)" stroke-width="1.5" fill="none"/>
<path d="M 512.9,639.8 C 515.3,637.4 525.8,635.7 535.2,635.7 C 538.7,636.3 539.3,643.3 536.3,646.2 L 514.1,652.6 C 510.6,653.2 510.0,644.4 512.9,639.8 Z" stroke-width="2.15" />
<path d="M 515.3,648.0 L 536.3,643.3" stroke-width="1.2" />
<path d="M 542.2,638.6 L 548.0,637.4 L 549.8,642.7 L 544.5,643.9 Z" stroke-width="1.5" />
<path d="M 538.7,631.6 L 550.4,629.8 M 539.8,633.9 L 549.2,632.7" stroke-width="1.2" />
<path d="M 471.1,774.9 L 500.7,774.9" stroke-width="2.15" />
<path d="M 475.7,799.8 L 636.0,749.9" stroke-width="2.15" />
<path d="M 500.7,722.6 C 516.5,729.4 539.3,731.7 573.3,730.6 C 584.7,729.4 591.5,722.6 593.8,713.5" stroke-width="2.15" />
<path d="M 566.5,665.9 C 575.6,674.9 584.7,686.3 591.5,697.7 C 598.3,706.7 598.3,712.4 593.8,714.7" stroke-width="2.15" />
<path d="M 500.7,774.9 C 530.2,768.1 548.3,763.5 552.9,759.0 C 559.7,749.9 560.8,736.3 559.7,731.7" stroke-width="2.15" />
<path d="M 484.8,677.2 C 505.2,672.7 539.3,670.4 566.5,674.9 M 498.4,706.7 C 516.5,699.9 550.6,697.7 584.7,702.2" stroke-width="1.2" />
<path d="M 531.3,718.1 C 532.4,714.7 539.3,713.5 548.3,714.7 L 562.0,713.5 C 568.8,712.4 573.3,713.5 573.3,718.1 L 572.2,727.2 C 571.1,729.4 562.0,730.6 550.6,730.6 L 534.7,728.3 C 530.2,727.2 529.0,722.6 531.3,718.1 Z" stroke-width="2.0" stroke-dasharray="6 4"/>
<path d="M 566.5,668.1 C 573.3,656.8 584.7,645.4 596.0,638.6 L 636.0,631.8" stroke-width="2.15" />
<path d="M 577.9,713.5 C 580.1,718.1 584.7,727.2 589.2,736.3 C 593.8,740.8 600.6,741.9 607.4,740.8 L 636.0,736.3" stroke-width="2.15" />
<path d="M 575.6,718.1 C 582.4,731.7 586.9,738.5 596.0,743.1 L 636.0,741.9" stroke-width="1.5" />
<path d="M 550.6,628.4 C 562.0,622.7 575.6,618.2 582.4,620.4 L 584.7,625.0 L 562.0,634.1 M 552.9,636.3 L 575.6,632.9 C 584.7,634.1 586.9,639.7 582.4,640.9 L 557.4,642.0 C 551.7,642.0 550.6,637.5 552.9,636.3 Z" stroke-width="2.15" />
<path d="M 600.0,634.1 C 611.4,631.8 627.3,630.7 640.9,636.3 C 656.8,645.4 668.1,659.0 674.9,672.7 C 678.3,681.8 674.9,695.4 672.7,704.5 C 670.4,711.3 668.1,713.5 665.9,715.8 L 613.6,726.0 C 606.8,726.0 602.3,722.6 600.0,720.4" stroke-width="2.15" />
<path d="M 600.0,704.5 C 622.7,690.8 645.4,681.8 674.9,674.9 M 600.0,713.5 C 622.7,702.2 656.8,690.8 674.9,681.8 M 600.0,654.5 C 611.4,652.2 622.7,650.0 631.8,643.1" stroke-width="1.2" />
<path d="M 602.3,738.5 C 606.8,741.9 613.6,741.9 622.7,739.7 L 665.9,718.1 C 669.3,715.8 669.3,711.3 665.9,711.3" stroke-width="2.15" />
<path d="M 600.0,761.2 L 769.2,705.6" stroke-width="2.15" />
<path d="M 665.9,717.0 L 740.8,698.8 C 752.2,695.4 756.7,686.3 756.7,677.2 L 764.6,636.3" stroke-width="2.15" />
<path d="M 676.1,604.5 C 673.8,615.9 678.3,625.0 687.4,629.5 L 756.7,677.2" stroke-width="2.15" />
<path d="M 690.8,615.9 L 699.9,618.2 L 701.1,626.1 L 692.0,623.8 Z" stroke-width="1.5" />
<path d="M 723.8,604.5 C 727.2,600.0 740.8,602.3 740.8,613.6 L 738.5,625.0 C 736.3,629.5 727.2,629.5 724.9,625.0 Z" stroke-width="1.2" />
<path d="M 754.4,600.0 C 747.6,611.4 743.1,627.3 745.3,650.0 M 727.2,638.6 C 731.7,650.0 740.8,659.0 754.4,672.7" stroke-width="1.2" />
<path d="M 620.4,600.0 C 622.7,606.8 636.3,613.6 645.4,622.7 L 677.2,622.7" stroke-width="2.15" />
<path d="M 650.0,640.9 L 677.2,627.3 M 663.6,654.5 L 704.5,640.9" stroke-width="1.5" />
<path d="M 600.0,618.2 C 606.8,620.4 613.6,625.0 618.2,631.8" stroke-width="1.5" />
<ellipse cx="571.2" cy="545.8" rx="21.0" ry="30.0" transform="rotate(12 571.2 545.8)" stroke-width="2.2" fill="none"/>
<ellipse cx="571.0" cy="546.3" rx="16.8" ry="25.5" transform="rotate(12 571.0 546.3)" stroke-width="2.2" fill="none"/>
<path d="M 556.6,535.3 C 564.4,534.3 579.0,533.9 586.8,535.8" stroke-width="2.15" />
<path d="M 564.4,529.0 C 566.3,526.5 570.2,527.5 573.1,530.0 L 577.0,532.9 M 565.3,530.9 C 569.2,532.9 572.2,533.9 575.1,534.3" stroke-width="1.5" />
<path d="M 554.6,543.1 C 555.6,542.1 557.5,542.6 557.7,544.6 L 557.5,553.4 C 557.3,555.3 555.6,555.5 554.6,554.3 Z" stroke-width="2.15" />
<ellipse cx="563.9" cy="565.0" rx="7.3" ry="4.1" transform="rotate(25 563.9 565.0)" stroke-width="2.15" fill="none"/>
<ellipse cx="563.9" cy="565.0" rx="4.4" ry="2.1" transform="rotate(25 563.9 565.0)" stroke-width="1.2" fill="none"/>
<path d="M 575.1,557.3 C 576.1,553.4 580.9,552.4 582.9,558.2 L 581.9,566.0" stroke-width="1.2" />
<path d="M 579.0,564.1 L 583.9,558.2" stroke-width="2.15" />
<path d="M 586.8,565.0 L 618.0,581.6" stroke-width="2.15" />
<path d="M 540.0,516.3 C 549.7,515.3 564.4,514.4 572.2,513.9" stroke-width="2.15" />
<path d="M 567.8,509.0 L 575.1,508.5 Q 576.5,510.0 575.1,511.9 L 568.3,512.2 Q 566.8,510.7 567.8,509.0 Z" stroke-width="1.5" />
<path d="M 592.6,506.1 C 608.2,507.1 627.7,509.5 647.2,514.4 L 660.0,518.3" stroke-width="2.15" />
<path d="M 582.9,512.4 C 598.5,509.5 618.0,512.4 637.5,518.3 L 660.0,522.2" stroke-width="1.5" />
<path d="M 583.9,514.4 C 585.8,512.4 590.7,512.4 598.5,515.3 C 613.1,521.2 627.7,530.9 633.6,540.7 M 585.8,515.8 C 591.7,514.4 596.5,516.3 600.4,518.3 C 614.1,525.1 625.8,532.9 631.6,541.7" stroke-width="1.2" />
<path d="M 586.8,535.8 C 594.6,535.8 603.4,538.7 610.2,544.6 C 614.1,548.5 619.9,550.4 624.8,550.4 C 627.7,549.5 627.7,544.6 625.8,540.7" stroke-width="1.5" />
<path d="M 586.8,565.0 L 612.1,568.0 L 610.2,544.6" stroke-width="1.5" />
<path d="M 596.0,550.9 L 606.3,550.4 Q 607.7,552.4 606.3,553.8 L 596.5,554.3 Q 595.1,552.9 596.0,550.9 Z" stroke-width="1.5" />
<path d="M 540.0,531.9 C 543.9,532.9 547.8,534.8 550.7,536.8 M 540.0,560.2 C 543.9,558.2 547.8,557.3 550.7,557.3" stroke-width="1.2" />
<path d="M246,410.5 L220.4,595" stroke-width="1.25"/>
<path d="M287.7,410.2 L249.5,563.7" stroke-width="1.25"/>
<circle cx="249.5" cy="563.7" r="1.5" fill="#111" stroke="none"/>
<path d="M349.4,410.2 L440,496" stroke-width="1.25"/>
<path d="M409.8,410.2 L434.8,426.1" stroke-width="1.25"/>
<path d="M451.5,409.9 L523.5,551" stroke-width="1.25"/>
<circle cx="523.5" cy="551" r="1.5" fill="#111" stroke="none"/>
<path d="M488.3,409.9 L537.5,540.6" stroke-width="1.25"/>
<circle cx="537.5" cy="540.6" r="1.5" fill="#111" stroke="none"/>
<path d="M519.5,409.9 L571.2,505.8" stroke-width="1.25"/>
<circle cx="571.2" cy="505.8" r="1.5" fill="#111" stroke="none"/>
<path d="M690.5,410 L633.7,483.9" stroke-width="1.25"/>
<circle cx="633.7" cy="483.9" r="1.5" fill="#111" stroke="none"/>
<path d="M723,410 L666.4,483.9" stroke-width="1.25"/>
<circle cx="666.4" cy="483.9" r="1.5" fill="#111" stroke="none"/>
<path d="M757.5,410 L692.2,489.7" stroke-width="1.25"/>
<circle cx="692.2" cy="489.7" r="1.5" fill="#111" stroke="none"/>
<path d="M796.5,410 L710.3,632.4" stroke-width="1.25"/>
<circle cx="710.3" cy="632.4" r="1.5" fill="#111" stroke="none"/>
<path d="M200.7,826 L216.6,680.6" stroke-width="1.25"/>
<circle cx="216.6" cy="680.6" r="1.5" fill="#111" stroke="none"/>
<path d="M257.4,826 L263.1,660.9" stroke-width="1.25"/>
<circle cx="263.1" cy="660.9" r="1.5" fill="#111" stroke="none"/>
<path d="M355.3,826 L402.2,638" stroke-width="1.25"/>
<circle cx="402.2" cy="638" r="1.5" fill="#111" stroke="none"/>
<path d="M421.2,827 L475.2,690.4" stroke-width="1.25"/>
<circle cx="475.2" cy="690.4" r="1.5" fill="#111" stroke="none"/>
<path d="M475.7,827 L512.5,621.6" stroke-width="1.25"/>
<circle cx="512.5" cy="621.6" r="1.5" fill="#111" stroke="none"/>
<path d="M548.4,827 L523.5,640.8" stroke-width="1.25"/>
<circle cx="523.5" cy="640.8" r="1.5" fill="#111" stroke="none"/>
<path d="M584.7,827 L563.1,720.4" stroke-width="1.25"/>
<circle cx="563.1" cy="720.4" r="1.5" fill="#111" stroke="none"/>
<path d="M619.3,826 L546.3,640.8" stroke-width="1.25"/>
<circle cx="546.3" cy="640.8" r="1.5" fill="#111" stroke="none"/>
<path d="M664.7,826 L556.8,629.1" stroke-width="1.25"/>
<circle cx="556.8" cy="629.1" r="1.5" fill="#111" stroke="none"/>
<path d="M709,826 L576.1,638.4" stroke-width="1.25"/>
<circle cx="576.1" cy="638.4" r="1.5" fill="#111" stroke="none"/>
<path d="M752.2,826 L538.1,584.6" stroke-width="1.25"/>
<circle cx="538.1" cy="584.6" r="1.5" fill="#111" stroke="none"/>
<path d="M795.3,826 L629.9,659.5" stroke-width="1.25"/>
<circle cx="629.9" cy="659.5" r="1.5" fill="#111" stroke="none"/>
<path d="M509.8,466.3 L571.2,505.8" stroke-width="2.15"/>
<path d="M530,465 L593.2,505.4 C596,505 600,505 604,505" stroke-width="2.15"/>
<path d="M523,457.8 L560,457.5 M523,457.8 C520,459 520,462 526,464 L560,464.6" stroke-width="2.15"/>
<path d="M509.8,464.6 C515,463 519,461.5 522.1,460.6" stroke-width="1"/>
<path d="M558.5,500.5 L557.2,514.6" stroke-width="2.15"/>
<path d="M 320.9,547.4 C 326.8,543.2 350.2,541.6 373.6,542.1 C 397.0,542.7 417.2,547.1 425.0,554.9 C 429.7,561.1 426.6,570.4 417.2,578.2 C 411.0,582.9 404.8,586.0 398.5,587.6 L 379.8,592.6" stroke-width="1.5" />
<path d="M 378.6,556.4 C 379.8,552.5 389.2,551.0 396.2,552.5 C 400.1,554.1 400.1,559.5 397.0,561.9 C 392.3,565.0 382.9,565.0 379.8,562.7 C 378.2,561.1 377.9,558.8 378.6,556.4 Z" stroke-width="1.5" />
<path d="M 382.9,557.2 C 386.0,554.1 393.8,554.1 396.2,556.4 C 394.6,559.5 387.6,561.1 382.9,559.5 Z" stroke-width="1.2" />
<path d="M 360.3,577.9 L 424.2,561.1 M 367.3,586.8 L 425.8,565.5" stroke-width="1.5" />
<path d="M 367.3,577.5 L 384.5,572.8 C 387.6,572.8 388.4,577.5 386.0,579.0 L 369.7,582.9 C 366.5,582.9 365.8,579.0 367.3,577.5 Z" stroke-width="1.5" />
<path d="M 397.7,566.5 L 414.9,561.9 C 418.0,561.9 418.0,565.8 415.7,566.5 L 400.1,571.2 C 397.0,571.2 396.2,567.3 397.7,566.5 Z" stroke-width="1.5" />
<path d="M 294.8,534.6 L 379.8,595.4" stroke-width="2.15" />
<path d="M 301.8,542.4 L 361.1,592.3 M 305.0,548.6 L 367.3,610.2" stroke-width="1.2" />
<path d="M 348.6,597.0 L 358.0,589.9 L 361.1,592.3 L 362.7,598.5 L 356.4,603.2 Z" stroke-width="1.2" />
<path d="M 359.5,614.1 L 379.8,596.2 C 389.2,592.3 400.1,590.4 412.6,592.6 C 425.0,595.4 434.4,603.2 442.2,612.6 C 445.3,617.2 448.4,623.5 451.5,629.7" stroke-width="2.15" />
<path d="M 295.6,582.9 C 303.4,581.4 311.2,582.1 320.5,586.0 C 326.8,589.2 331.5,592.3 334.6,595.4 M 297.2,591.5 C 311.2,590.7 320.5,593.8 326.8,598.5 L 339.3,604.8 M 325.2,597.0 L 331.5,615.7" stroke-width="1.2" />
<path d="M 305.7,618.0 C 314.3,617.2 323.7,618.0 331.5,620.4" stroke-width="1.2" />
<path d="M 366.3,642.1 C 379.0,636.3 393.6,630.4 408.2,625.6 C 418.0,621.7 427.7,619.7 433.6,621.7 C 438.4,624.6 442.3,632.4 446.2,638.2 C 449.2,643.1 448.2,649.9 443.3,651.9 L 394.6,668.0" stroke-width="2.15" />
<path d="M 449.2,570.0 C 451.1,577.8 454.0,587.5 460.0,601.2" stroke-width="2.15" />
<path d="M 361.4,618.2 C 365.3,618.7 369.2,619.2 372.2,618.7 L 379.5,634.3" stroke-width="1.2" />
<path d="M 361.5,663.1 L 362.3,679.7 C 362.8,693.0 364.0,704.6 367.3,714.5 C 371.4,724.4 379.7,734.4 386.3,742.7 C 391.3,749.3 393.8,754.3 396.3,757.3 C 399.6,758.9 406.2,759.2 412.8,760.1 C 422.8,761.7 432.7,766.7 446.0,774.2 C 455.9,780.8 462.6,789.1 469.2,800.0" stroke-width="2.15" />
<path d="M 365.6,663.1 L 366.5,679.7 C 366.8,693.0 367.8,704.6 370.6,711.2 C 373.4,715.3 378.1,717.5 383.0,719.5 C 393.0,724.4 407.9,732.7 421.1,740.2 C 436.0,748.5 449.3,757.6 459.2,765.0 C 465.0,770.0 468.4,773.3 470.8,775.8" stroke-width="2.15" />
<path d="M 404.6,683.0 C 412.8,681.4 422.8,676.4 432.7,671.4 C 446.0,663.1 459.2,656.5 472.5,653.2" stroke-width="1.2" />
<path d="M 409.5,697.9 L 420.3,697.9 C 429.4,693.0 446.0,684.7 477.5,661.5" stroke-width="2.15" />
<path d="M 420.3,698.8 L 439.4,736.0 M 444.3,683.0 L 475.8,736.0" stroke-width="1.2" />
<path d="M 452.6,744.3 C 462.6,741.0 479.1,736.0 495.7,729.4 M 469.2,762.6 C 487.4,759.2 504.0,751.0 513.9,739.4" stroke-width="1.2" />
<path d="M 460.9,686.3 C 462.6,681.4 470.8,679.7 479.1,680.5 C 485.8,681.4 489.1,686.3 492.4,693.0 C 499.0,702.9 504.0,709.5 502.3,717.8 C 500.7,722.8 497.3,722.8 494.0,721.1 C 479.1,712.8 465.9,701.2 460.9,693.0 Z" stroke-width="2.15" />
<path d="M 467.5,697.9 C 475.8,701.2 487.4,702.9 495.7,702.9" stroke-width="1.2" />
<path d="M 518.9,732.7 C 520.5,746.0 512.3,762.6 500.7,775.8" stroke-width="2.15" />
<path d="M 499.0,722.8 C 505.6,729.4 512.3,731.1 530.0,729.4" stroke-width="2.15" />
<path d="M 330.0,633.3 C 346.6,638.3 363.1,648.2 378.1,666.5 L 397.9,702.9 M 330.0,667.3 C 346.6,668.1 363.1,679.7 379.7,693.0 L 397.9,702.9" stroke-width="1.2" />
<path d="M 774.5,595.1 C 771.5,597.5 761.8,599.4 756.9,602.3" stroke-width="2.15" />
<path d="M 600.0,513.6 C 639.0,517.5 678.0,531.2 717.0,552.6 C 736.5,564.3 748.1,576.0 754.0,585.8" stroke-width="1.2" />
<path d="M 681.9,533.1 C 701.4,540.9 720.9,552.6 736.5,566.3 C 746.2,576.0 752.0,581.9 754.0,585.8" stroke-width="1.2" />
<path d="M 639.0,519.5 C 641.9,523.4 641.9,529.2 639.0,532.2" stroke-width="1.2" />
<path d="M 639.0,532.2 C 648.7,531.2 668.2,531.2 676.0,536.1 C 681.9,540.0 679.9,546.8 676.0,552.6 C 672.1,560.4 668.6,578.0 668.2,597.5 C 668.2,613.1 674.1,624.8 683.8,629.6 L 691.6,632.6" stroke-width="2.15" />
<path d="M 639.0,532.7 C 629.2,539.0 623.4,554.6 621.4,574.1 C 619.5,593.6 621.4,609.2 625.3,617.0 L 627.3,624.8" stroke-width="2.15" />
<path d="M 639.0,539.0 C 648.7,535.1 668.2,537.0 674.1,542.9 C 676.0,548.7 672.1,556.5 666.3,558.5 L 642.9,554.6 C 637.0,552.6 636.1,542.9 639.0,539.0 Z" stroke-width="1.2" />
<path d="M 649.7,541.9 L 665.3,545.8 L 663.4,555.6 L 648.7,551.7 Z" stroke-width="1.2" />
<path d="M 629.2,556.5 L 650.7,562.4 C 656.5,564.3 657.5,570.2 656.5,576.0 L 650.7,599.4 C 649.7,602.3 646.8,603.3 642.9,602.3 L 625.3,595.5 C 621.4,593.6 620.5,589.7 621.4,585.8 L 624.4,560.4 C 625.3,556.5 627.3,555.6 629.2,556.5 Z" stroke-width="2.15" />
<path d="M 637.0,558.5 L 635.1,568.2 M 645.8,562.4 L 643.9,574.1 M 623.4,568.2 L 655.6,578.0 M 622.4,581.9 L 652.6,591.6" stroke-width="1.5" />
<path d="M 621.4,601.4 L 646.8,609.2 L 645.8,620.9 M 623.4,613.1 L 642.9,617.0 M 627.3,624.8 L 644.8,620.9" stroke-width="1.5" />
<path d="M 685.8,544.8 C 691.6,541.9 701.4,542.9 709.2,546.8 L 736.5,562.4 C 744.2,568.2 748.1,578.0 748.1,589.7 C 748.1,597.5 744.2,601.4 736.5,599.4 L 726.7,595.5" stroke-width="1.2" />
<path d="M 683.8,572.1 L 726.7,595.5" stroke-width="2.15" />
<path d="M 679.9,574.1 C 674.1,578.0 672.1,587.7 673.1,597.5 C 674.1,609.2 679.9,618.9 691.6,622.8 L 724.8,624.8 C 728.7,620.9 729.6,609.2 728.7,595.5" stroke-width="1.2" />
<path d="M 754.0,585.8 C 755.9,597.5 754.0,609.2 748.1,617.0 C 744.2,626.7 742.3,636.5 743.3,648.1 M 736.5,581.9 C 740.4,591.6 740.4,599.4 736.5,605.3" stroke-width="1.2" />
<path d="M 504.7,588.3 C 514.5,584.4 524.2,579.5 532.0,577.5 C 535.9,577.1 539.8,577.1 543.7,578.5 C 549.6,580.5 558.4,585.3 567.1,591.2 C 573.0,595.1 577.8,598.0 579.8,601.9 C 580.8,605.8 580.8,609.7 578.8,612.6 C 573.0,614.6 563.2,618.5 557.4,622.4 C 553.5,625.3 551.5,629.2 550.6,633.1" stroke-width="2.15" />
<path d="M 525.2,582.4 L 527.2,579.5 L 532.0,578.0 L 535.9,579.0 L 537.9,582.4 M 527.2,585.3 L 528.1,582.4" stroke-width="1.5" />
<path d="M 433.6,520.0 C 436.6,534.6 439.5,559.0 442.4,588.2 C 443.4,598.0 444.4,607.7 445.5,620.0" stroke-width="2.15" />
<path d="M 440.5,538.5 C 441.4,536.6 444.4,536.1 447.8,536.8" stroke-width="2.15" />
<path d="M 441.0,539.5 C 443.4,549.2 448.3,568.7 453.1,583.4 C 457.0,594.1 460.9,601.9 464.8,607.7 C 466.8,610.6 468.7,613.6 470.7,617.5" stroke-width="2.15" />
</svg>
<div class="lb" style="left:215.5px;top:388.9px">1</div>
<div class="lb" style="left:258.0px;top:388.9px">2</div>
<div class="lb" style="left:318.4px;top:388.9px">3</div>
<div class="lb" style="left:377.5px;top:388.9px">4</div>
<div class="lb" style="left:421.0px;top:388.9px">5</div>
<div class="lb" style="left:458.0px;top:388.9px">6</div>
<div class="lb" style="left:489.0px;top:388.9px">7</div>
<div class="lb" style="left:660.3px;top:388.9px">12</div>
<div class="lb" style="left:693.8px;top:388.9px">13</div>
<div class="lb" style="left:727.8px;top:388.9px">14</div>
<div class="lb" style="left:765.2px;top:388.9px">15</div>
<div class="lb" style="left:171.2px;top:828.5px">16</div>
<div class="lb" style="left:227.8px;top:828.5px">17</div>
<div class="lb" style="left:325.0px;top:828.5px">18</div>
<div class="lb" style="left:390.6px;top:828.5px">19</div>
<div class="lb" style="left:445.5px;top:828.5px">20</div>
<div class="lb" style="left:520.5px;top:828.5px">21</div>
<div class="lb" style="left:554.5px;top:828.5px">22</div>
<div class="lb" style="left:589.8px;top:828.5px">23</div>
<div class="lb" style="left:636.0px;top:828.5px">24</div>
<div class="lb" style="left:681.8px;top:828.5px">25</div>
<div class="lb" style="left:722.4px;top:828.5px">26</div>
<div class="lb" style="left:766.8px;top:828.5px">27</div>
<div class="lb" style="left:546.0px;top:233.3px">8</div>
<div class="lb" style="left:710.5px;top:233.3px">11</div>
<div class="lb" style="left:602.5px;top:320.6px">9</div>
<div class="lb" style="left:546.0px;top:357.1px">10</div>
</body></html>
